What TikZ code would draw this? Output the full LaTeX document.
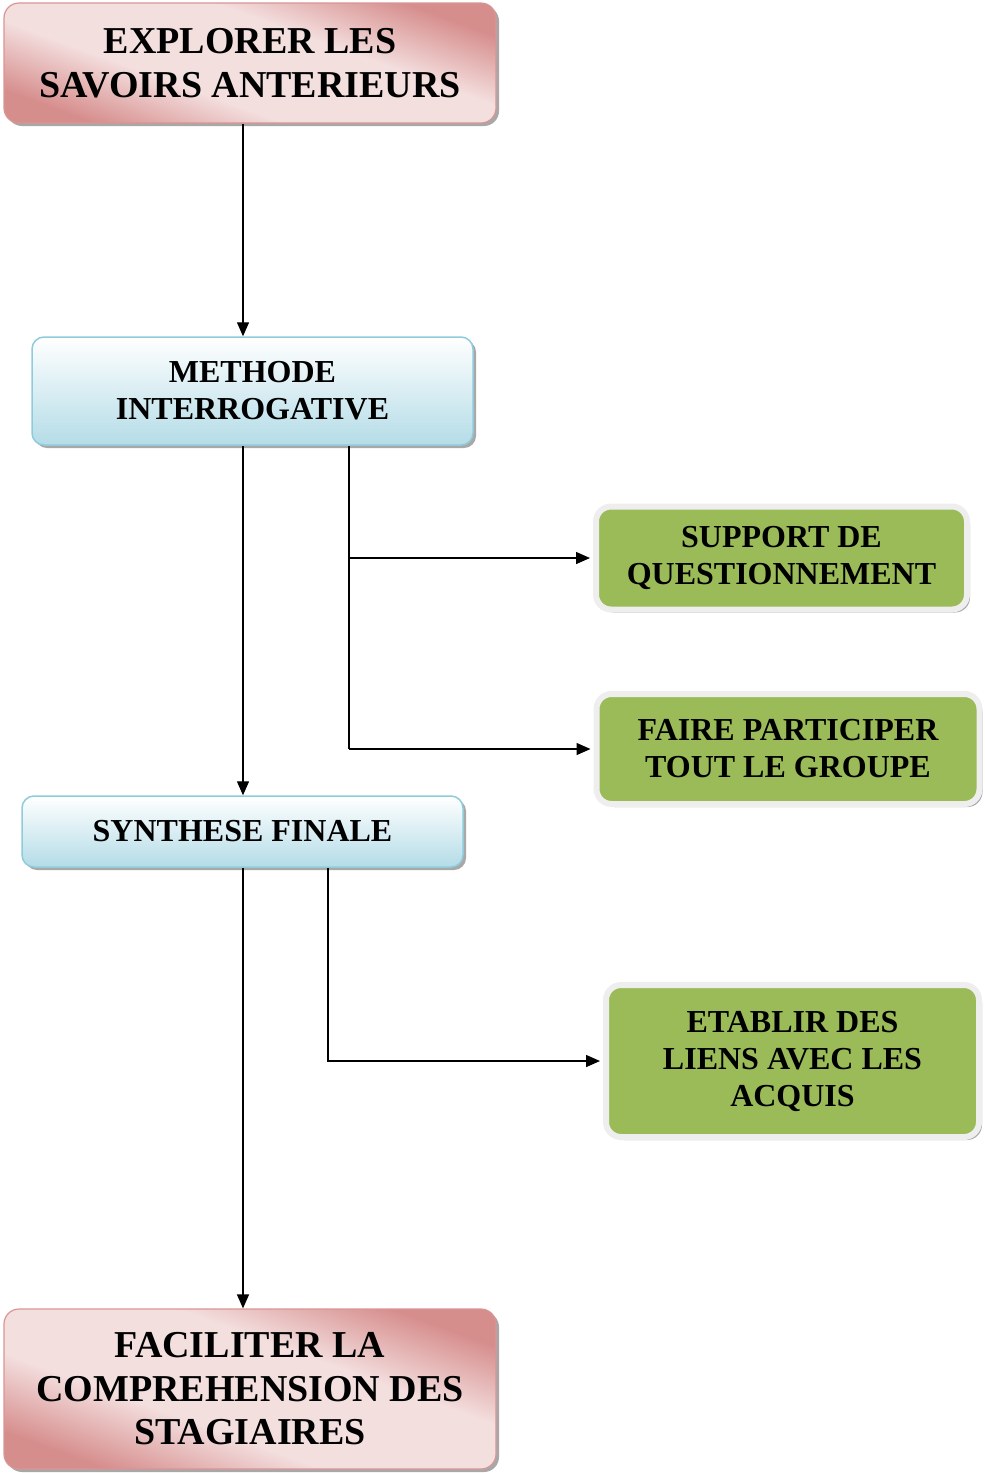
\documentclass[tikz,border=0pt]{standalone}
\usepackage{fontspec}
\setmainfont{Liberation Serif}
\usetikzlibrary{arrows.meta,shadows,calc}
\definecolor{pinkdark}{HTML}{D68E8D}
\definecolor{pinklight}{HTML}{F4DFDF}
\definecolor{pinkedge}{HTML}{D99594}
\definecolor{bluebot}{HTML}{B4DCE7}
\definecolor{blueedge}{HTML}{8FCBDB}
\definecolor{greenfill}{HTML}{9BBB59}
\definecolor{greenedge}{HTML}{EEEEEE}
\definecolor{shadowgray}{HTML}{A8A8A8}
\pgfdeclareverticalshading{pinkshade}{100bp}{color(0bp)=(pinkdark); color(25bp)=(pinkdark); color(40bp)=(pinklight); color(60bp)=(pinklight); color(75bp)=(pinkdark); color(100bp)=(pinkdark)}
\tikzset{
  shad/.style={drop shadow={shadow xshift=3pt,shadow yshift=-3pt,fill=shadowgray,opacity=1}},
  pinkbox/.style={shad,rectangle,rounded corners=15pt,draw=pinkedge,line width=1.2pt,
    shading=pinkshade,shading angle=-20,
    align=center,font=\fontsize{38}{43.5}\selectfont\bfseries,inner sep=0pt},
  bluebox/.style={shad,rectangle,rounded corners=12pt,draw=blueedge,line width=1.5pt,
    top color=white,bottom color=bluebot,
    align=center,font=\fontsize{32}{37}\selectfont\bfseries,inner sep=0pt},
  greenbox/.style={shad,rectangle,rounded corners=15pt,draw=greenedge,line width=6pt,fill=greenfill,
    align=center,font=\fontsize{32}{37}\selectfont\bfseries,inner sep=0pt},
  conn/.style={line width=1.4pt,-{Triangle[length=14pt,width=12pt]}},
  plain/.style={line width=1.4pt},
}
\begin{document}
\begin{tikzpicture}[x=1pt,y=-1pt]
\useasboundingbox (0,0) rectangle (985,1473);
\node[pinkbox,minimum width=492pt,minimum height=120pt] (top) at (250,63) {EXPLORER LES\\SAVOIRS ANTERIEURS};
\node[bluebox,minimum width=441pt,minimum height=108pt] (meth) at (252.5,391) {METHODE\\INTERROGATIVE};
\node[bluebox,minimum width=441pt,minimum height=71pt] (synth) at (242.5,831.5) {SYNTHESE FINALE};
\node[pinkbox,minimum width=492pt,minimum height=160pt] (bot) at (250,1389) {FACILITER LA\\COMPREHENSION DES\\STAGIAIRES};
\node[greenbox,minimum width=371pt,minimum height=103pt] (supp) at (781.5,558) {SUPPORT DE\\QUESTIONNEMENT};
\node[greenbox,minimum width=383pt,minimum height=110pt] (faire) at (788,749) {FAIRE PARTICIPER\\TOUT LE GROUPE};
\node[greenbox,minimum width=373pt,minimum height=152pt] (etab) at (792.5,1061) {ETABLIR DES\\LIENS AVEC LES\\ACQUIS};
\coordinate (cx) at (243,0);
\coordinate (bx) at (349,0);
\coordinate (sx) at (328,0);
\draw[conn] (top.south -| cx) -- (meth.north -| cx);
\draw[conn] (meth.south -| cx) -- (synth.north -| cx);
\draw[conn] (synth.south -| cx) -- (bot.north -| cx);
\draw[plain] (meth.south -| bx) -- (bx |- faire.west);
\draw[conn,shorten >=3pt] (bx |- supp.west) -- (supp.west);
\draw[conn,shorten >=3pt] (bx |- faire.west) -- (faire.west);
\draw[conn,shorten >=3pt] (synth.south -| sx) |- (etab.west);
\end{tikzpicture}
\end{document}
